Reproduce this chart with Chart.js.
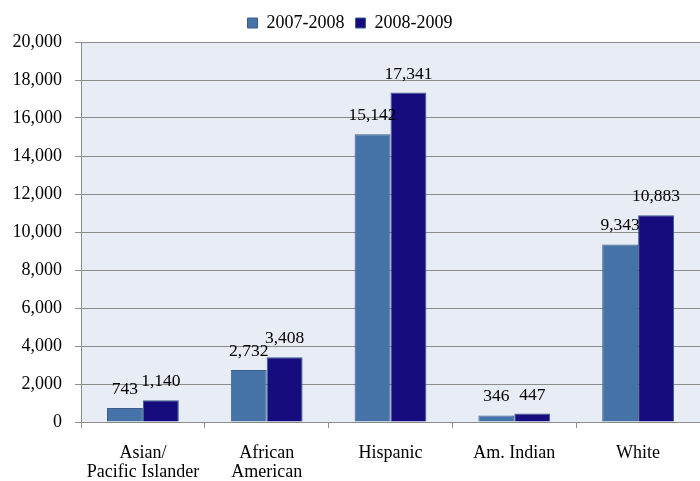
<!DOCTYPE html>
<html>
<head>
<meta charset="utf-8">
<script src="https://cdn.jsdelivr.net/npm/chart.js@4.4.1/dist/chart.umd.min.js"></script>
<style>
  html, body { margin: 0; padding: 0; background: #fff; }
  #wrap { width: 700px; height: 481px; }
</style>
</head>
<body>
<div id="wrap"><canvas id="Chart1"></canvas></div>
<script>
const categories = [['Asian/', 'Pacific Islander'], ['African', 'American'], 'Hispanic', 'Am. Indian', 'White'];
const series1 = [743, 2732, 15142, 346, 9343];
const series2 = [1140, 3408, 17341, 447, 10883];
const seriesNames = ['2007-2008', '2008-2009'];

const serif = "'Liberation Serif', 'Times New Roman', serif";
const gridGray = '#8c8c8c';

const plotBg = {
    id: 'plotBg',
    beforeDraw(chart) {
        const a = chart.chartArea;
        const c = chart.ctx;
        c.save();
        c.fillStyle = '#e8ecf4';
        c.fillRect(a.left, a.top, a.right - a.left, a.bottom - a.top);
        c.restore();
    }
};

const barLabels = {
    id: 'barLabels',
    afterDatasetsDraw(chart) {
        const c = chart.ctx;
        c.save();
        c.font = '17.5px ' + serif;
        c.fillStyle = '#000';
        c.textAlign = 'center';
        c.textBaseline = 'alphabetic';
        chart.data.datasets.forEach((ds, i) => {
            chart.getDatasetMeta(i).data.forEach((bar, j) => {
                c.fillText(ds.data[j].toLocaleString('en-US'), bar.x, bar.y - 14);
            });
        });
        c.restore();
    }
};

const ctx1 = document.getElementById('Chart1').getContext('2d');

new Chart(ctx1, {
    type: 'bar',
    data: {
        labels: categories,
        datasets: [{
            label: seriesNames[0],
            data: series1,
            backgroundColor: '#4673a7',
            borderColor: '#3a5f8c',
            borderWidth: 1
        }, {
            label: seriesNames[1],
            data: series2,
            backgroundColor: '#160c7e',
            borderColor: '#3a5f8c',
            borderWidth: 1
        }]
    },
    options: {
        responsive: true,
        maintainAspectRatio: false,
        animation: false,
        categoryPercentage: 0.58,
        barPercentage: 1,
        layout: { padding: { top: 3, right: 0, left: 0, bottom: 0 } },
        plugins: {
            legend: {
                position: 'top',
                labels: {
                    font: { family: serif, size: 18 },
                    color: '#000',
                    boxWidth: 10,
                    boxHeight: 10,
                    padding: 11
                }
            },
            tooltip: { enabled: false }
        },
        scales: {
            x: {
                grid: {
                    offset: true,
                    drawOnChartArea: false,
                    color: gridGray,
                    tickLength: 6
                },
                border: { color: gridGray },
                ticks: {
                    font: { family: serif, size: 18, lineHeight: 1.05 },
                    color: '#000',
                    maxRotation: 0,
                    padding: 16
                },
                afterFit(scale) { scale.height = 59; }
            },
            y: {
                min: 0,
                max: 20000,
                ticks: {
                    stepSize: 2000,
                    font: { family: serif, size: 18 },
                    color: '#000',
                    padding: 13,
                    callback: v => v.toLocaleString('en-US')
                },
                grid: { color: gridGray, tickLength: 6 },
                border: { color: gridGray },
                afterFit(scale) { scale.width = 81; }
            }
        }
    },
    plugins: [plotBg, barLabels]
});
</script>
</body>
</html>
